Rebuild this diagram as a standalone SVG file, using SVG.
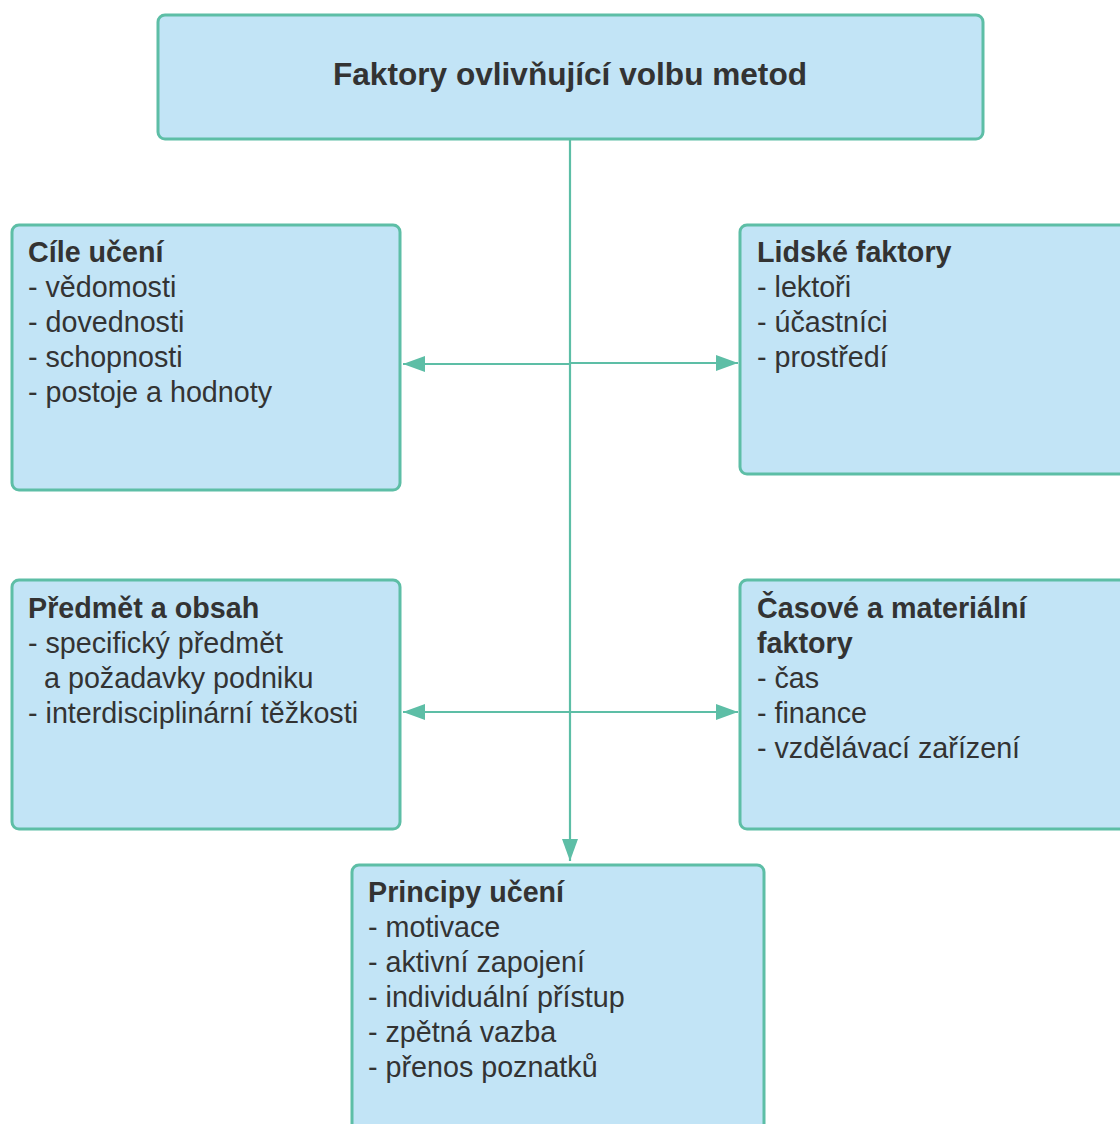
<svg xmlns="http://www.w3.org/2000/svg" width="1120" height="1124" viewBox="0 0 1120 1124">
<style>
.box{fill:#c2e4f6;stroke:#5dbea6;stroke-width:3}
.t{font-family:"Liberation Sans",Arial,sans-serif;font-size:28.7px;fill:#333333}
.b{font-weight:bold}
.title{font-family:"Liberation Sans",Arial,sans-serif;font-size:31.6px;font-weight:bold;fill:#333333;text-anchor:middle}
.c{stroke:#5dbea6;stroke-width:2.2;fill:none}
</style>
<defs>
<marker id="ah" viewBox="0 0 22 16" refX="22" refY="8" markerWidth="22" markerHeight="16" markerUnits="userSpaceOnUse" orient="auto">
<path d="M0,0 L22,8 L0,16 Z" fill="#5dbea6"/>
</marker>
</defs>
<rect width="1120" height="1124" fill="#ffffff"/>
<g id="connectors">
<line class="c" x1="570" y1="139" x2="570" y2="861" marker-end="url(#ah)"/>
<line class="c" x1="570" y1="364" x2="403" y2="364" marker-end="url(#ah)"/>
<line class="c" x1="570" y1="363" x2="738" y2="363" marker-end="url(#ah)"/>
<line class="c" x1="570" y1="712" x2="403" y2="712" marker-end="url(#ah)"/>
<line class="c" x1="570" y1="712" x2="738" y2="712" marker-end="url(#ah)"/>
</g>
<g id="top">
<rect class="box" x="158" y="15" width="825" height="124" rx="7"/>
<text class="title" x="570" y="85">Faktory ovlivňující volbu metod</text>
</g>
<g id="cile">
<rect class="box" x="12" y="225" width="388" height="265" rx="7"/>
<text class="t" x="28"><tspan class="b" y="262">Cíle učení</tspan><tspan x="28" y="297">- vědomosti</tspan><tspan x="28" y="332">- dovednosti</tspan><tspan x="28" y="367">- schopnosti</tspan><tspan x="28" y="402">- postoje a hodnoty</tspan></text>
</g>
<g id="lidske">
<rect class="box" x="740" y="225" width="400" height="249" rx="7"/>
<text class="t" x="757"><tspan class="b" y="262">Lidské faktory</tspan><tspan x="757" y="297">- lektoři</tspan><tspan x="757" y="332">- účastníci</tspan><tspan x="757" y="367">- prostředí</tspan></text>
</g>
<g id="predmet">
<rect class="box" x="12" y="580" width="388" height="249" rx="7"/>
<text class="t" x="28"><tspan class="b" y="618">Předmět a obsah</tspan><tspan x="28" y="653">- specifický předmět</tspan><tspan x="44" y="688">a požadavky podniku</tspan><tspan x="28" y="723">- interdisciplinární těžkosti</tspan></text>
</g>
<g id="casove">
<rect class="box" x="740" y="580" width="400" height="249" rx="7"/>
<text class="t" x="757"><tspan class="b" y="618">Časové a materiální</tspan><tspan class="b" x="757" y="653">faktory</tspan><tspan x="757" y="688">- čas</tspan><tspan x="757" y="723">- finance</tspan><tspan x="757" y="758">- vzdělávací zařízení</tspan></text>
</g>
<g id="principy">
<rect class="box" x="352" y="865" width="412" height="280" rx="7"/>
<text class="t" x="368"><tspan class="b" y="902">Principy učení</tspan><tspan x="368" y="937">- motivace</tspan><tspan x="368" y="972">- aktivní zapojení</tspan><tspan x="368" y="1007">- individuální přístup</tspan><tspan x="368" y="1042">- zpětná vazba</tspan><tspan x="368" y="1077">- přenos poznatků</tspan></text>
</g>
</svg>
